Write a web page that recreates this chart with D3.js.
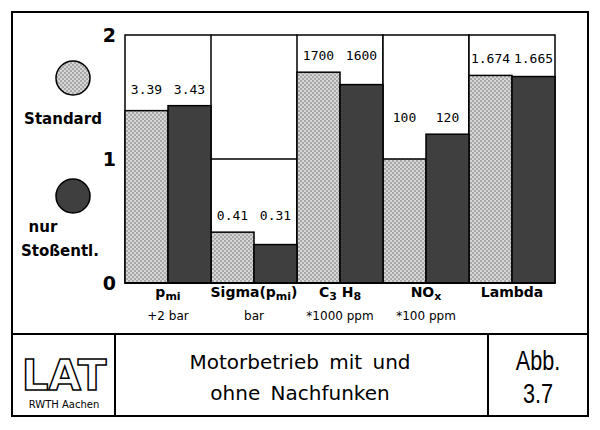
<!DOCTYPE html>
<html><head><meta charset="utf-8">
<script src="https://cdn.jsdelivr.net/npm/d3@7"></script>
<style>body{margin:0;background:#fff}</style>
</head><body>
<script>
// categories, shown labels and plotted offsets (axis 0..2)
var categories = ["pmi", "sigma", "c3h8", "nox", "lambda"];
var unitLabels = ["+2 bar", "bar", "*1000 ppm", "*100 ppm", ""];
var standardText = ["3.39", "0.41", "1700", "100", "1.674"];
var nurText = ["3.43", "0.31", "1600", "120", "1.665"];
var standardVals = [1.39, 0.41, 1.70, 1.00, 1.674];
var nurVals = [1.43, 0.31, 1.60, 1.20, 1.665];
var groupTop = [2, 1, 2, 2, 2];
var yTicks = [0, 1, 2];

var svg = d3.select("body").append("svg").attr("width", 600).attr("height", 430);
var defs = svg.append("defs");
var pat = defs.append("pattern").attr("id", "chk").attr("width", 4).attr("height", 4)
	.attr("patternUnits", "userSpaceOnUse");
pat.append("rect").attr("width", 4).attr("height", 4).attr("fill", "#d6d6d6");
pat.append("rect").attr("width", 2).attr("height", 2).attr("fill", "#a8a8a8");
pat.append("rect").attr("x", 2).attr("y", 2).attr("width", 2).attr("height", 2).attr("fill", "#a8a8a8");

var sans = "DejaVu Sans, sans-serif", mono = "DejaVu Sans Mono, monospace";

// frame
svg.append("rect").attr("x", 12).attr("y", 12).attr("width", 576).attr("height", 404)
	.attr("fill", "none").attr("stroke", "#000").attr("stroke-width", 2);
svg.append("line").attr("x1", 12).attr("x2", 588).attr("y1", 334).attr("y2", 334).attr("stroke", "#000").attr("stroke-width", 2);
svg.append("line").attr("x1", 115).attr("x2", 115).attr("y1", 334).attr("y2", 416).attr("stroke", "#000").attr("stroke-width", 2);
svg.append("line").attr("x1", 488).attr("x2", 488).attr("y1", 334).attr("y2", 416).attr("stroke", "#000").attr("stroke-width", 2);

var x = d3.scaleBand().domain(categories).range([125, 555]);
var y = d3.scaleLinear().domain([0, 2]).range([283, 35]);
var half = x.bandwidth() / 2;

// group boxes
svg.selectAll(".grp").data(categories).enter().append("rect")
	.attr("x", function(d){ return x(d); })
	.attr("y", function(d, i){ return y(groupTop[i]); })
	.attr("width", x.bandwidth())
	.attr("height", function(d, i){ return y(0) - y(groupTop[i]); })
	.attr("fill", "#fff").attr("stroke", "#000").attr("stroke-width", 1.5);
svg.append("path").attr("d", "M" + x("sigma") + "," + y(2) + "H" + (x("sigma") + x.bandwidth()))
	.attr("stroke", "#000").attr("stroke-width", 1.5);

// bars
svg.selectAll(".std").data(standardVals).enter().append("rect")
	.attr("x", function(d, i){ return x(categories[i]); })
	.attr("y", function(d){ return y(d); })
	.attr("width", half).attr("height", function(d){ return y(0) - y(d); })
	.attr("fill", "url(#chk)").attr("stroke", "#000").attr("stroke-width", 1.5);
svg.selectAll(".nur").data(nurVals).enter().append("rect")
	.attr("x", function(d, i){ return x(categories[i]) + half; })
	.attr("y", function(d){ return y(d); })
	.attr("width", half).attr("height", function(d){ return y(0) - y(d); })
	.attr("fill", "#3f3f3f").attr("stroke", "#000").attr("stroke-width", 1.5);

// value labels
categories.forEach(function(c, i){
	var ly = y(Math.max(standardVals[i], nurVals[i])) - 12;
	[standardText[i], nurText[i]].forEach(function(t, k){
		svg.append("text").attr("x", x(c) + half * k + half / 2).attr("y", ly)
			.attr("text-anchor", "middle").attr("font-family", mono).attr("font-size", 13).text(t);
	});
});

// axis
svg.append("line").attr("x1", 125).attr("x2", 555).attr("y1", y(0)).attr("y2", y(0)).attr("stroke", "#000").attr("stroke-width", 2);
svg.selectAll(".yt").data(yTicks).enter().append("text")
	.attr("x", 116).attr("y", function(d){ return y(d) + 7; })
	.attr("text-anchor", "end").attr("font-family", sans).attr("font-weight", "bold").attr("font-size", 19)
	.text(function(d){ return d; });

// category labels with subscripts
var catNames = [
	[["p", 0], ["mi", 1]],
	[["Sigma(p", 0], ["mi", 1], [")", 0]],
	[["C", 0], ["3", 1], [" H", 0], ["8", 1]],
	[["NO", 0], ["x", 1]],
	[["Lambda", 0]]
];
categories.forEach(function(c, i){
	var t = svg.append("text").attr("x", x(c) + half).attr("y", 300)
		.attr("text-anchor", "middle").attr("font-family", sans).attr("font-weight", "bold").attr("font-size", 14);
	catNames[i].forEach(function(p){
		t.append("tspan").attr("font-size", p[1] ? 11 : 14).attr("dy", p[1] ? 3 : (t.node().childNodes.length ? -3 : 0)).text(p[0]);
	});
	svg.append("text").attr("x", x(c) + half).attr("y", 320).attr("text-anchor", "middle")
		.attr("font-family", sans).attr("font-size", 12).text(unitLabels[i]);
});

// legend
svg.append("circle").attr("cx", 73).attr("cy", 78).attr("r", 17).attr("fill", "url(#chk)").attr("stroke", "#000").attr("stroke-width", 1.5);
svg.append("circle").attr("cx", 73).attr("cy", 196).attr("r", 17).attr("fill", "#3f3f3f").attr("stroke", "#000").attr("stroke-width", 1.5);
[["Standard", 63, 124], ["nur", 43, 232], ["Stoßentl.", 60, 256]].forEach(function(l){
	svg.append("text").attr("x", l[1]).attr("y", l[2]).attr("text-anchor", "middle")
		.attr("font-family", sans).attr("font-weight", "bold").attr("font-size", 15).text(l[0]);
});

// title block
svg.append("text").attr("x", 64).attr("y", 390).attr("text-anchor", "middle").attr("font-family", sans)
	.attr("font-size", 42).attr("font-weight", "bold").attr("fill", "#fff").attr("stroke", "#000").attr("stroke-width", 1.5).text("LAT");
svg.append("text").attr("x", 64).attr("y", 408).attr("text-anchor", "middle").attr("font-family", sans)
	.attr("font-size", 10).text("RWTH Aachen");
svg.append("text").attr("x", 300).attr("y", 369).attr("text-anchor", "middle").attr("font-family", sans)
	.attr("font-size", 20).attr("word-spacing", 4).text("Motorbetrieb mit und");
svg.append("text").attr("x", 300).attr("y", 400).attr("text-anchor", "middle").attr("font-family", sans)
	.attr("font-size", 20).attr("word-spacing", 4).text("ohne Nachfunken");
svg.append("text").attr("x", 538).attr("y", 370).attr("text-anchor", "middle").attr("font-family", "Liberation Sans, sans-serif")
	.attr("font-size", 27).attr("transform", "translate(538,0) scale(0.8,1) translate(-538,0)").text("Abb.");
svg.append("text").attr("x", 538).attr("y", 403).attr("text-anchor", "middle").attr("font-family", "Liberation Sans, sans-serif")
	.attr("font-size", 27).attr("transform", "translate(538,0) scale(0.8,1) translate(-538,0)").text("3.7");
</script>
</body></html>
